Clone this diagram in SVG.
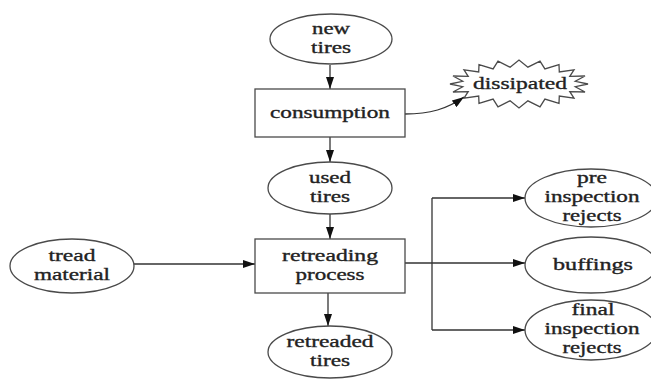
<svg xmlns="http://www.w3.org/2000/svg" width="651" height="379" viewBox="0 0 651 379">
<style>
.n{fill:#fff;stroke:#4a4a4a;stroke-width:1.3}
.t{font-family:"Liberation Serif","Times New Roman",serif;font-size:17px;fill:#222;stroke:#222;stroke-width:0.35;text-anchor:middle}
.e{fill:none;stroke:#333;stroke-width:1.3}
</style>
<defs>
<marker id="ah" markerUnits="userSpaceOnUse" markerWidth="12" markerHeight="8" refX="12" refY="4" orient="auto">
<path d="M0,0 L12,4 L0,8 z" fill="#111"/>
</marker>
</defs>
<rect width="651" height="379" fill="#fff"/>
<g id="connectors">
<path class="e" d="M330,65 V89" marker-end="url(#ah)"/>
<path class="e" d="M330,137 V162" marker-end="url(#ah)"/>
<path class="e" d="M330,214 V239" marker-end="url(#ah)"/>
<path class="e" d="M328,293 V326" marker-end="url(#ah)"/>
<path class="e" d="M134,264 H255" marker-end="url(#ah)"/>
<path class="e" d="M405,114 C430,114 447,109 464,97" marker-end="url(#ah)"/>
<path class="e" d="M405,263 H525" marker-end="url(#ah)"/>
<path class="e" d="M432,198 V330"/>
<path class="e" d="M432,198 H525" marker-end="url(#ah)"/>
<path class="e" d="M432,330 H525" marker-end="url(#ah)"/>
</g>
<g id="new_tires">
<ellipse class="n" cx="331" cy="39" rx="61" ry="25"/>
<text class="t" x="331" y="34" textLength="38" lengthAdjust="spacingAndGlyphs">new</text>
<text class="t" x="331" y="53" textLength="40" lengthAdjust="spacingAndGlyphs">tires</text>
</g>
<g id="consumption">
<rect class="n" x="255" y="89" width="150" height="48"/>
<text class="t" x="330" y="118" textLength="120" lengthAdjust="spacingAndGlyphs">consumption</text>
</g>
<g id="dissipated">
<polygon class="n" points="588,84 575.3,86.7 585,92 569.8,91.7 574,98.1 559.3,96 559,103.4 544.9,99.1 540,106.8 527.9,100.8 519,108 510.1,100.8 498,106.8 493.1,99.1 479,103.4 478.7,96 464,98.1 468.2,91.7 453,92 462.7,86.7 450,84 462.7,81.3 453,76 468.2,76.3 464,69.9 478.7,72 479,64.6 493.1,68.9 498,61.2 510.1,67.2 519,60 527.9,67.2 540,61.2 544.9,68.9 559,64.6 559.3,72 574,69.9 569.8,76.3 585,76 575.3,81.3"/>
<text class="t" x="520" y="89" textLength="94" lengthAdjust="spacingAndGlyphs">dissipated</text>
</g>
<g id="used_tires">
<ellipse class="n" cx="330" cy="188" rx="62" ry="26"/>
<text class="t" x="330" y="183" textLength="42" lengthAdjust="spacingAndGlyphs">used</text>
<text class="t" x="330" y="202" textLength="40" lengthAdjust="spacingAndGlyphs">tires</text>
</g>
<g id="retreading_process">
<rect class="n" x="255" y="239" width="150" height="54"/>
<text class="t" x="330" y="261" textLength="96" lengthAdjust="spacingAndGlyphs">retreading</text>
<text class="t" x="330" y="280" textLength="69" lengthAdjust="spacingAndGlyphs">process</text>
</g>
<g id="tread_material">
<ellipse class="n" cx="72" cy="266" rx="62" ry="27"/>
<text class="t" x="72" y="261" textLength="47" lengthAdjust="spacingAndGlyphs">tread</text>
<text class="t" x="72" y="280" textLength="76" lengthAdjust="spacingAndGlyphs">material</text>
</g>
<g id="retreaded_tires">
<ellipse class="n" cx="330" cy="352" rx="62" ry="26"/>
<text class="t" x="330" y="347" textLength="87" lengthAdjust="spacingAndGlyphs">retreaded</text>
<text class="t" x="330" y="366" textLength="40" lengthAdjust="spacingAndGlyphs">tires</text>
</g>
<g id="pre_inspection_rejects">
<ellipse class="n" cx="591" cy="198" rx="66" ry="29"/>
<text class="t" x="592" y="183" textLength="30" lengthAdjust="spacingAndGlyphs">pre</text>
<text class="t" x="592" y="202" textLength="95" lengthAdjust="spacingAndGlyphs">inspection</text>
<text class="t" x="592" y="221" textLength="59" lengthAdjust="spacingAndGlyphs">rejects</text>
</g>
<g id="buffings">
<ellipse class="n" cx="591" cy="265" rx="66" ry="28"/>
<text class="t" x="593" y="270" textLength="80" lengthAdjust="spacingAndGlyphs">buffings</text>
</g>
<g id="final_inspection_rejects">
<ellipse class="n" cx="591" cy="330" rx="66" ry="30"/>
<text class="t" x="593" y="315" textLength="43" lengthAdjust="spacingAndGlyphs">final</text>
<text class="t" x="592" y="334" textLength="95" lengthAdjust="spacingAndGlyphs">inspection</text>
<text class="t" x="592" y="353" textLength="59" lengthAdjust="spacingAndGlyphs">rejects</text>
</g>
</svg>
